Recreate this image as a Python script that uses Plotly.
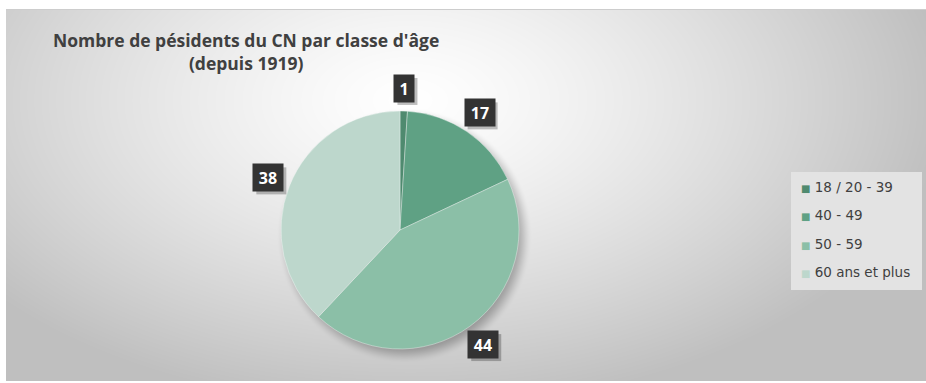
import base64
import struct
import zlib

import numpy as np
import plotly.graph_objects as go

# --- data -------------------------------------------------------------
categories = ["18 / 20 - 39", "40 - 49", "50 - 59", "60 ans et plus"]
counts = [1, 17, 44, 38]
colors = ["#4f8a6f", "#5fa184", "#8bbfa7", "#bdd7cc"]
title_lines = ["Nombre de pésidents du CN par classe d'âge", "(depuis 1919)"]

# --- canvas / layout geometry (pixels) ---------------------------------
W, H = 926, 383
PIE_CX, PIE_CY, PIE_R = 400, 230, 119
LABEL_R = 1.19 * PIE_R


def px2paper(x, y):
    return x / W, 1 - y / H


def png_data_uri(rgb):
    """Encode an HxWx3 uint8 array as a PNG data URI."""
    h, w, _ = rgb.shape
    raw = b"".join(b"\x00" + rgb[i].tobytes() for i in range(h))

    def chunk(tag, data):
        c = struct.pack(">I", len(data)) + tag + data
        return c + struct.pack(">I", zlib.crc32(tag + data) & 0xFFFFFFFF)

    png = (b"\x89PNG\r\n\x1a\n"
           + chunk(b"IHDR", struct.pack(">IIBBBBB", w, h, 8, 2, 0, 0, 0))
           + chunk(b"IDAT", zlib.compress(raw, 9))
           + chunk(b"IEND", b""))
    return "data:image/png;base64," + base64.b64encode(png).decode()


# chart-area background: soft radial grey gradient, pie drop shadow
yy, xx = np.mgrid[0:H, 0:W].astype(float)
d = np.sqrt(((xx - 410) / 540) ** 2 + ((yy - 100) / 310) ** 2)
grey = 255 - 64 * np.clip(d, 0, 1) ** 1.3
dist = np.sqrt((xx - (PIE_CX + 4)) ** 2 + (yy - (PIE_CY + 5)) ** 2)
blur = 9.0
t = np.clip((PIE_R + blur - dist) / (2 * blur), 0, 1)
shadow = 0.28 * t * t * (3 - 2 * t)
grey = grey * (1 - shadow)
img = np.repeat(grey[:, :, None], 3, axis=2)
# white frame outside the chart area
img[:10, :, :] = 255
img[:, :6, :] = 255
img[381:, :, :] = 255
img[9, 6:, :] = 205
bg_uri = png_data_uri(np.clip(img, 0, 255).astype(np.uint8))

fig = go.Figure()

fig.add_trace(go.Pie(
    labels=categories,
    values=counts,
    sort=False,
    direction="clockwise",
    rotation=0,
    marker=dict(colors=colors, line=dict(color="rgba(255,255,255,0.45)", width=0.8)),
    textinfo="none",
    hoverinfo="label+value",
    showlegend=False,
    domain=dict(x=[(PIE_CX - PIE_R) / W, (PIE_CX + PIE_R) / W],
                y=[1 - (PIE_CY + PIE_R) / H, 1 - (PIE_CY - PIE_R) / H]),
))

# legend entries: coloured square glyph followed by the category name
for name, col in zip(categories, colors):
    fig.add_trace(go.Scatter(
        x=[None], y=[None], mode="markers", legendgroup=name,
        name=f"<span style='color:{col};font-size:10px'>■</span> {name}",
        marker=dict(symbol="square", size=1, color="rgba(0,0,0,0)"),
        hoverinfo="skip",
    ))

shapes = []
# legend panel
lx0, ly0 = px2paper(791, 172)
lx1, ly1 = px2paper(922, 290)
shapes.append(dict(type="rect", xref="paper", yref="paper", layer="below",
                   x0=lx0, y0=ly1, x1=lx1, y1=ly0,
                   fillcolor="#e3e3e3", line=dict(width=0)))

# value labels in dark boxes around the pie
annotations = []
total = sum(counts)
cum = 0
for v in counts:
    ang = np.deg2rad((cum + v / 2) / total * 360)
    cum += v
    cx = PIE_CX + LABEL_R * np.sin(ang)
    cy = PIE_CY - LABEL_R * np.cos(ang)
    bw = 10 * len(str(v)) + 10
    bh = 27
    sx0, sy0 = px2paper(cx - bw / 2 + 3, cy - bh / 2 + 3)
    sx1, sy1 = px2paper(cx + bw / 2 + 3, cy + bh / 2 + 3)
    shapes.append(dict(type="rect", xref="paper", yref="paper",
                       x0=sx0, y0=sy1, x1=sx1, y1=sy0,
                       fillcolor="rgba(0,0,0,0.25)", line=dict(width=0)))
    ax, ay = px2paper(cx, cy)
    annotations.append(dict(
        x=ax, y=ay, xref="paper", yref="paper",
        xanchor="center", yanchor="middle",
        text=f"<b>{v}</b>", showarrow=False,
        width=bw - 8, height=bh - 8,
        font=dict(family="Open Sans", size=16, color="#ffffff"),
        bgcolor="#333333", borderpad=4,
    ))

# two-line chart title
tx, ty = px2paper(246, 51)
annotations.append(dict(
    x=tx, y=ty, xref="paper", yref="paper",
    xanchor="center", yanchor="middle", showarrow=False,
    text="<b>" + "<br>".join(title_lines) + "</b>",
    font=dict(family="Open Sans", size=17.5, color="#404040"),
))

legx, legy = px2paper(761, 171)
fig.update_layout(
    width=W, height=H,
    margin=dict(l=0, r=0, t=0, b=0),
    paper_bgcolor="white",
    plot_bgcolor="rgba(0,0,0,0)",
    xaxis=dict(visible=False),
    yaxis=dict(visible=False),
    images=[dict(source=bg_uri, xref="paper", yref="paper", x=0, y=1,
                 sizex=1, sizey=1, xanchor="left", yanchor="top",
                 sizing="stretch", layer="below")],
    legend=dict(
        x=legx, y=legy, xanchor="left", yanchor="top",
        bgcolor="rgba(0,0,0,0)", borderwidth=0,
        font=dict(family="DejaVu Sans", size=13.5, color="#404040"),
        tracegroupgap=8, itemwidth=30,
    ),
    shapes=shapes,
    annotations=annotations,
    showlegend=True,
)

fig.write_html("out.html")
